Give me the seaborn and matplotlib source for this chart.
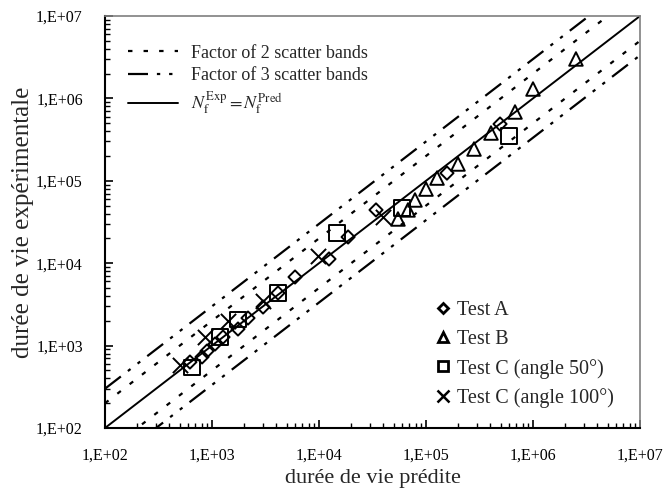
import numpy as np
import pandas as pd
import matplotlib
matplotlib.use('Agg')
import matplotlib.pyplot as plt
from matplotlib.ticker import FixedLocator, FixedFormatter
from matplotlib.lines import Line2D
import seaborn as sns

# durée de vie prédite / expérimentale
testA_pred = [622, 807, 898, 1067, 1268, 1750, 2170, 3000, 4140, 5970, 12400, 18700, 34100, 157000, 492000]
testA_exp = [632, 728, 859, 1045, 1270, 1590, 2160, 2940, 4350, 6800, 11250, 20800, 44300, 124000, 489000]

testB_pred = [54700, 67900, 78900, 100000, 126800, 199000, 281000, 405000, 679000, 1000000, 2520000]
testB_exp = [34400, 44300, 58500, 79400, 108000, 160000, 243000, 380000, 684000, 1300000, 3010000]

testC50_pred = [650, 1190, 1750, 4140, 14700, 59700, 597000]
testC50_exp = [540, 1270, 2090, 4350, 23300, 46800, 350000]

testC100_pred = [502, 861, 1410, 3000, 9770, 39600]
testC100_exp = [582, 1270, 2000, 3470, 12200, 36300]

tick_values = [1e2, 1e3, 1e4, 1e5, 1e6, 1e7]
tick_labels = ['1,E+02', '1,E+03', '1,E+04', '1,E+05', '1,E+06', '1,E+07']

# bandes de dispersion
band_factors = [2, 3]

sns.set_theme(style='white')
plt.rcParams['font.family'] = ['Liberation Serif', 'DejaVu Serif']
plt.rcParams['mathtext.fontset'] = 'stix'

fig = plt.figure(figsize=(6.68, 4.90), dpi=100)
ax = fig.add_axes([105/668, 62/490, 535/668, 412/490])

ref = np.array([1e2, 1e7])
line_df = pd.DataFrame({'x': ref, 'y': ref})
sns.lineplot(data=line_df, x='x', y='y', color='black', lw=1.4, ax=ax)
ls2 = (0, (2, 5))
ls3 = (0, (9, 4, 1.5, 4, 1.5, 4))
for f in band_factors:
    ls = ls2 if f == 2 else ls3
    ax.plot(ref, ref * f, color='black', lw=1.6, linestyle=ls)
    ax.plot(ref, ref / f, color='black', lw=1.6, linestyle=ls)

groups = [
    ('Test A', testA_pred, testA_exp, 'D', 45),
    ('Test B', testB_pred, testB_exp, '^', 95),
    ('Test C (angle 50°)', testC50_pred, testC50_exp, 's', 120),
    ('Test C (angle 100°)', testC100_pred, testC100_exp, 'x', 120),
]
handles2 = []
for name, xp, yp, m, s in groups:
    df = pd.DataFrame({'pred': xp, 'exp': yp})
    if m == 'x':
        sns.scatterplot(data=df, x='pred', y='exp', marker='x', s=s, color='black',
                        linewidth=1.4, ax=ax, legend=False, zorder=5)
        handles2.append(Line2D([], [], marker='x', ls='none', color='black', ms=8, mew=1.8, label=name))
    else:
        sns.scatterplot(data=df, x='pred', y='exp', marker=m, s=s, facecolors='none',
                        edgecolors='black', linewidth=1.4, ax=ax, legend=False, zorder=5)
        handles2.append(Line2D([], [], marker=m, ls='none', mfc='none', mec='black', ms=7 if m != 'D' else 5.5,
                               mew=2, label=name))

ax.set_xscale('log')
ax.set_yscale('log')
ax.set_xlim(1e2, 1e7)
ax.set_ylim(1e2, 1e7)
ax.xaxis.set_major_locator(FixedLocator(tick_values))
ax.xaxis.set_major_formatter(FixedFormatter(tick_labels))
ax.yaxis.set_major_locator(FixedLocator(tick_values))
ax.yaxis.set_major_formatter(FixedFormatter(tick_labels))
ax.tick_params(which='both', direction='in', bottom=True, left=True, top=False, right=False,
               labelsize=11.5, colors='black')
ax.tick_params(which='major', length=6, width=1.2)
ax.tick_params(which='minor', length=3.5, width=1)
ax.tick_params(axis='x', which='major', pad=14)
ax.tick_params(axis='y', which='major', pad=16)
ax.set_xlabel('durée de vie prédite', fontsize=16)
ax.set_ylabel('durée de vie expérimentale', fontsize=18)
ax.xaxis.set_label_coords(0.5, -0.1)
ax.yaxis.set_label_coords(-0.133, 0.5)

for side in ['left', 'bottom']:
    ax.spines[side].set_color('black')
    ax.spines[side].set_linewidth(1.5)
for side in ['top', 'right']:
    ax.spines[side].set_color('#7f7f7f')
    ax.spines[side].set_linewidth(1.2)

handles1 = [
    Line2D([], [], color='black', lw=1.6, linestyle=ls2, label='Factor of 2 scatter bands'),
    Line2D([], [], color='black', lw=1.6, linestyle=ls3, label='Factor of 3 scatter bands'),
    Line2D([], [], color='black', lw=1.4, label=r'$N_{\mathrm{f}}^{\mathrm{Exp}} = N_{\mathrm{f}}^{\mathrm{Pred}}$'),
]
leg1 = ax.legend(handles=handles1, loc='upper left', bbox_to_anchor=(0.012, 0.97), frameon=False,
                 fontsize=13, handlelength=2.8, handletextpad=0.7, labelspacing=0.3)
ax.add_artist(leg1)
ax.legend(handles=handles2, loc='upper left', bbox_to_anchor=(0.582, 0.352), frameon=False,
          fontsize=14.5, handlelength=0.8, handletextpad=0.3, labelspacing=0.48)

fig.savefig('out.png', dpi=100)
